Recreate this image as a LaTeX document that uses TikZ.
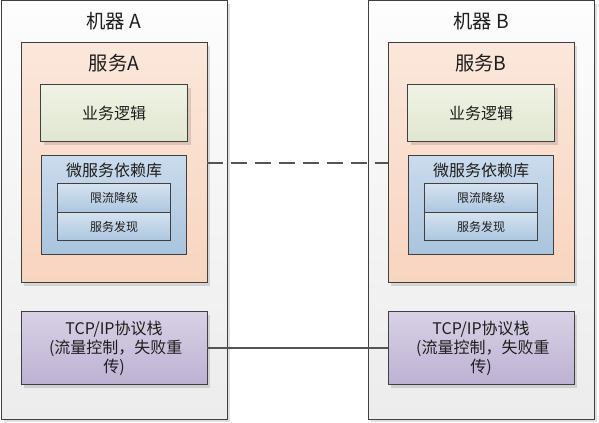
\documentclass[tikz,border=0pt]{standalone}
\usepackage{fontspec}
\setmainfont{Noto Sans CJK SC}
\usetikzlibrary{positioning,shadows}
\definecolor{FrameGray}{HTML}{404040}
\definecolor{LinkGray}{HTML}{555555}
\definecolor{TextDark}{HTML}{1E1E1E}
\definecolor{MachTop}{HTML}{FDFDFD}
\definecolor{MachBot}{HTML}{ECECEC}
\definecolor{SvcTop}{HTML}{FBE7DB}
\definecolor{SvcBot}{HTML}{F8D5BF}
\definecolor{LogicTop}{HTML}{EFF3E5}
\definecolor{LogicBot}{HTML}{E0E6CF}
\definecolor{LibTop}{HTML}{CADBEC}
\definecolor{LibBot}{HTML}{A9C4DE}
\definecolor{NetTop}{HTML}{D8D1E5}
\definecolor{NetBot}{HTML}{BDB1D3}

\begin{document}
\begin{tikzpicture}[x=0.75pt,y=-0.75pt,text=TextDark,
      plain/.style={draw=FrameGray,line width=0.75pt,inner sep=0pt,outer sep=0pt,align=center},
      box/.style={plain,drop shadow={shadow xshift=2.25pt,shadow yshift=-2.25pt,fill=black,opacity=0.12}},
      machine/.style={box,minimum width=169.5pt,minimum height=313.5pt,top color=MachTop,bottom color=MachBot},
      service/.style={box,minimum width=139.5pt,minimum height=180pt,top color=SvcTop,bottom color=SvcBot},
      logic/.style={box,minimum width=110.25pt,minimum height=42.75pt,top color=LogicTop,bottom color=LogicBot,
      font=\fontsize{12pt}{14pt}\selectfont},
      lib/.style={plain,minimum width=108.75pt,minimum height=74.25pt,top color=LibTop,bottom color=LibBot},
      module/.style={plain,minimum width=84.75pt,minimum height=21.375pt,top color=LibTop!80!white,bottom color=LibBot!90!LibTop,
      font=\fontsize{9pt}{11pt}\selectfont},
      network/.style={box,minimum width=139.5pt,minimum height=54.75pt,top color=NetTop,bottom color=NetBot,
      font=\fontsize{12pt}{14pt}\selectfont},
      heading/.style={font=\fontsize{14.5pt}{16pt}\selectfont,inner sep=0pt},
      libhead/.style={font=\fontsize{12pt}{14pt}\selectfont,inner sep=0pt},
      link/.style={draw=LinkGray,line width=1.5pt}]
      \useasboundingbox[fill=white] (0,0) rectangle (599,423);
      % machine A
      \node[machine] (machA) at (114,210) {};
      \node[heading] (machAtitle) at ([yshift=-15pt]machA.north) {机器 A};
      \node[service,below=31.5pt of machA.north] (svcA) {};
      \node[heading] (svcAtitle) at ([yshift=-15pt]svcA.north) {服务A};
      \node[logic,below=31.5pt of svcA.north] (logicA) {业务逻辑};
      \node[lib,below=10.5pt of logicA.south] (libA) {};
      \node[libhead] (libAtitle) at ([yshift=-10.5pt]libA.north) {微服务依赖库};
      \node[module,below=21pt of libA.north] (limitA) {限流降级};
      \node[module,below=0pt of limitA] (discoA) {服务发现};
      \node[network,below=21.75pt of svcA.south] (netA) {TCP/IP协议栈\\~(流量控制，失败重\\传)};
      % machine B
      \node[machine] (machB) at (481,210) {};
      \node[heading] (machBtitle) at ([yshift=-15pt]machB.north) {机器 B};
      \node[service,below=31.5pt of machB.north] (svcB) {};
      \node[heading] (svcBtitle) at ([yshift=-15pt]svcB.north) {服务B};
      \node[logic,below=31.5pt of svcB.north] (logicB) {业务逻辑};
      \node[lib,below=10.5pt of logicB.south] (libB) {};
      \node[libhead] (libBtitle) at ([yshift=-10.5pt]libB.north) {微服务依赖库};
      \node[module,below=21pt of libB.north] (limitB) {限流降级};
      \node[module,below=0pt of limitB] (discoB) {服务发现};
      \node[network,below=21.75pt of svcB.south] (netB) {TCP/IP协议栈\\~(流量控制，失败重\\传)};
      % links
      \draw[link,dash pattern=on 12pt off 6pt] (svcA) -- (svcB);
      \draw[link] (netA) -- (netB);
    \end{tikzpicture}
\end{document}
